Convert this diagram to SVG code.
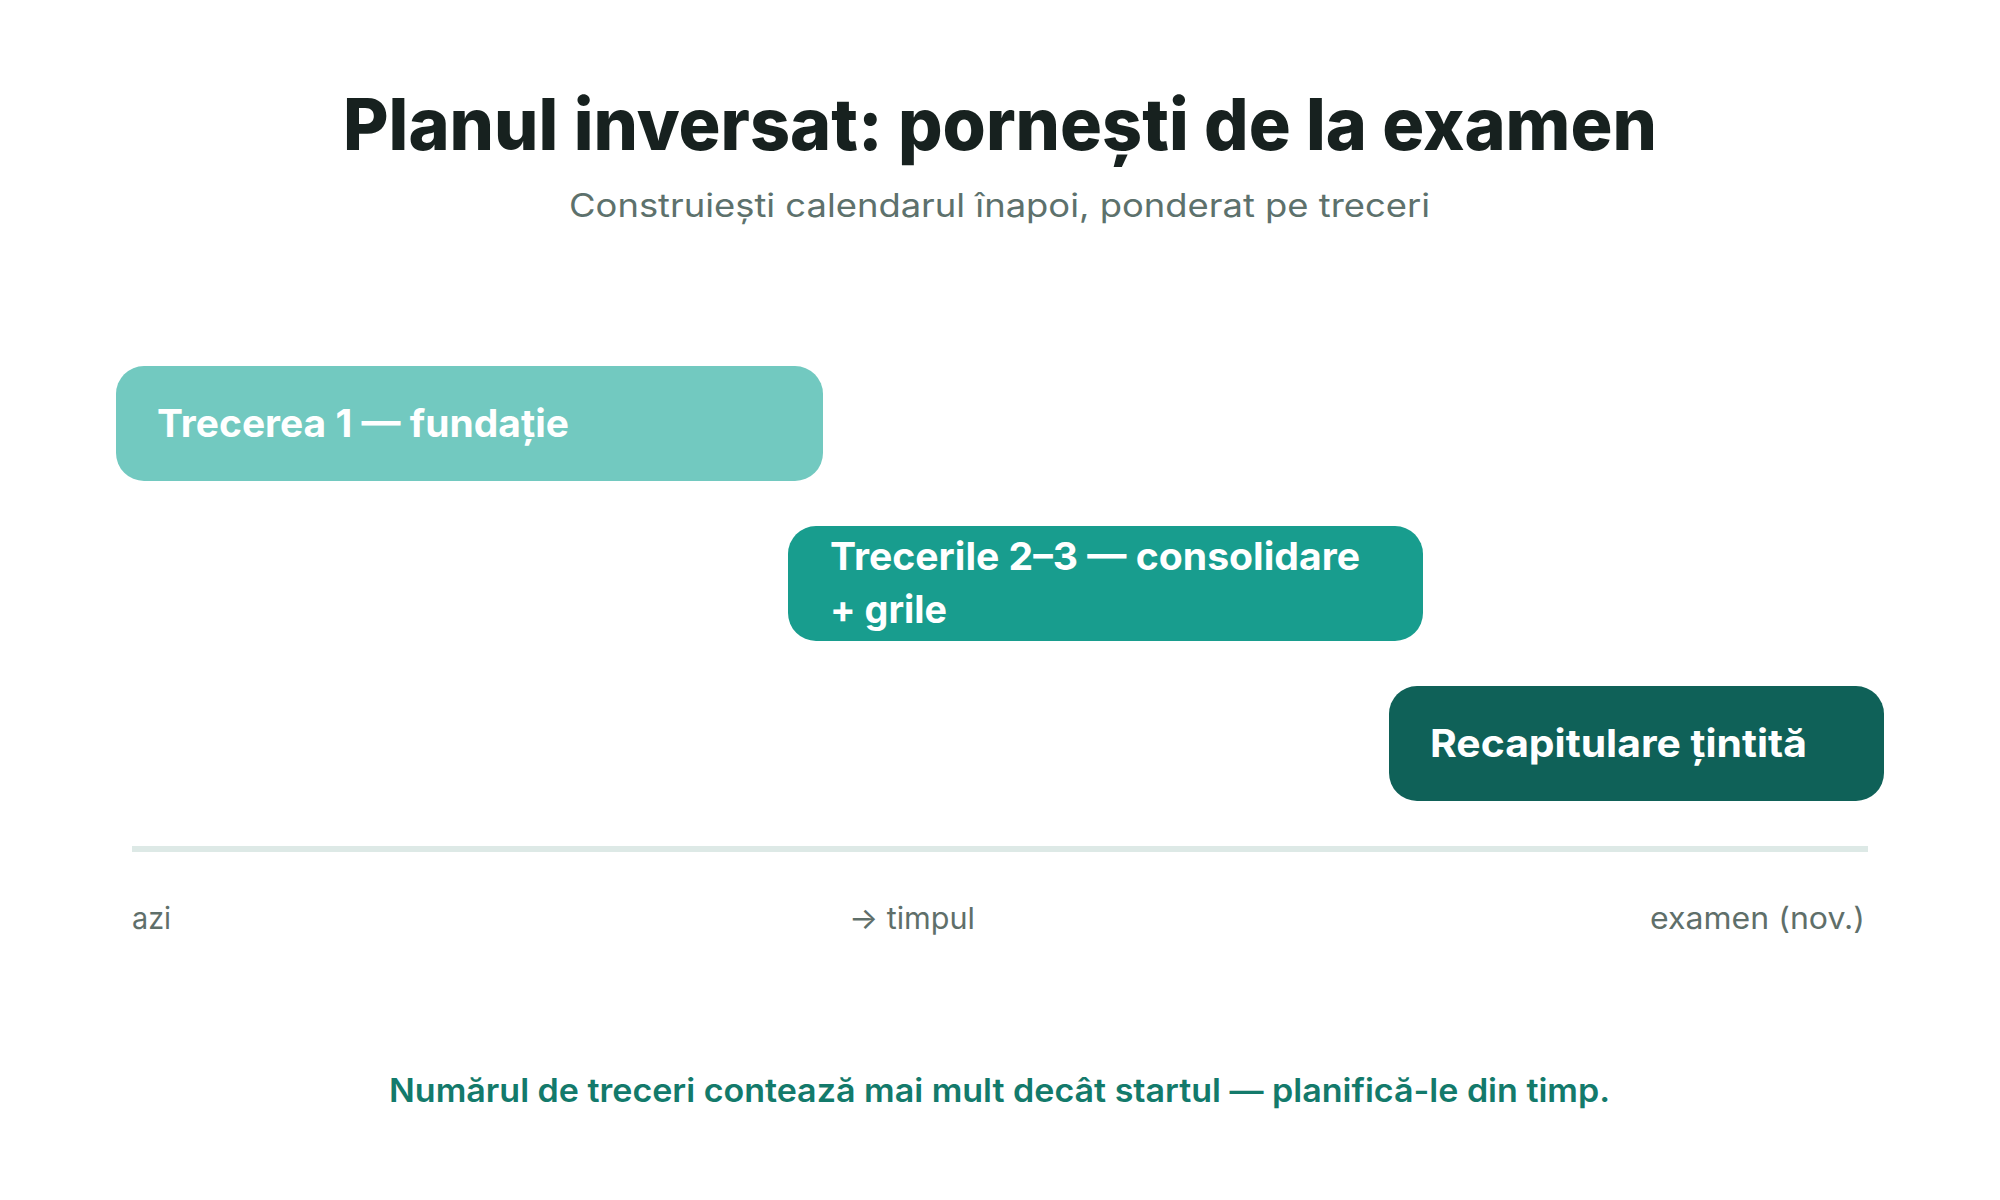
<svg xmlns="http://www.w3.org/2000/svg" width="2000" height="1200" viewBox="0 0 2000 1200">
  <style>
    .f { font-family: Inter, "Open Sans", "Liberation Sans", sans-serif; }
    .title { font-size: 72px; font-weight: 800; fill: #17211f; }
    .sub { font-size: 32px; font-weight: 400; fill: #5d716c; }
    .lbl { font-size: 38px; font-weight: 700; fill: #ffffff; }
    .ax { font-size: 30px; font-weight: 400; fill: #5f6f6a; }
    .note { font-size: 32px; font-weight: 600; fill: #137a6b; }
  </style>
  <rect x="0" y="0" width="2000" height="1200" fill="#ffffff"/>

  <g id="header">
    <text class="f title" x="343" y="150" textLength="1314" lengthAdjust="spacingAndGlyphs">Planul inversat: pornești de la examen</text>
    <text class="f sub" x="569" y="217" textLength="861" lengthAdjust="spacingAndGlyphs">Construiești calendarul înapoi, ponderat pe treceri</text>
  </g>

  <g id="pass1">
    <rect x="116" y="366" width="707" height="115" rx="28" ry="28" fill="#72c9c0"/>
    <text class="f lbl" x="157" y="437" textLength="412" lengthAdjust="spacingAndGlyphs">Trecerea 1 — fundație</text>
  </g>

  <g id="pass23">
    <rect x="788" y="526" width="635" height="115" rx="28" ry="28" fill="#189d8e"/>
    <text class="f lbl" x="830" y="570" textLength="530" lengthAdjust="spacingAndGlyphs">Trecerile 2–3 — consolidare</text>
    <text class="f lbl" x="830" y="623" textLength="117" lengthAdjust="spacingAndGlyphs">+ grile</text>
  </g>

  <g id="review">
    <rect x="1389" y="686" width="495" height="115" rx="28" ry="28" fill="#0f6158"/>
    <text class="f lbl" x="1430" y="757" textLength="377" lengthAdjust="spacingAndGlyphs">Recapitulare țintită</text>
  </g>

  <g id="connectors">
    <line x1="132" y1="849" x2="1868" y2="849" stroke="#dde9e6" stroke-width="6"/>
  </g>

  <g id="axis-labels">
    <text class="f ax" x="132" y="929" textLength="39" lengthAdjust="spacingAndGlyphs">azi</text>
    <text class="f ax" x="849" y="929" textLength="126" lengthAdjust="spacingAndGlyphs">→ timpul</text>
    <text class="f ax" x="1865" y="929" text-anchor="end" textLength="215" lengthAdjust="spacingAndGlyphs">examen (nov.)</text>
  </g>

  <g id="footer">
    <text class="f note" x="389" y="1102" textLength="1221" lengthAdjust="spacingAndGlyphs">Numărul de treceri contează mai mult decât startul — planifică-le din timp.</text>
  </g>
</svg>
